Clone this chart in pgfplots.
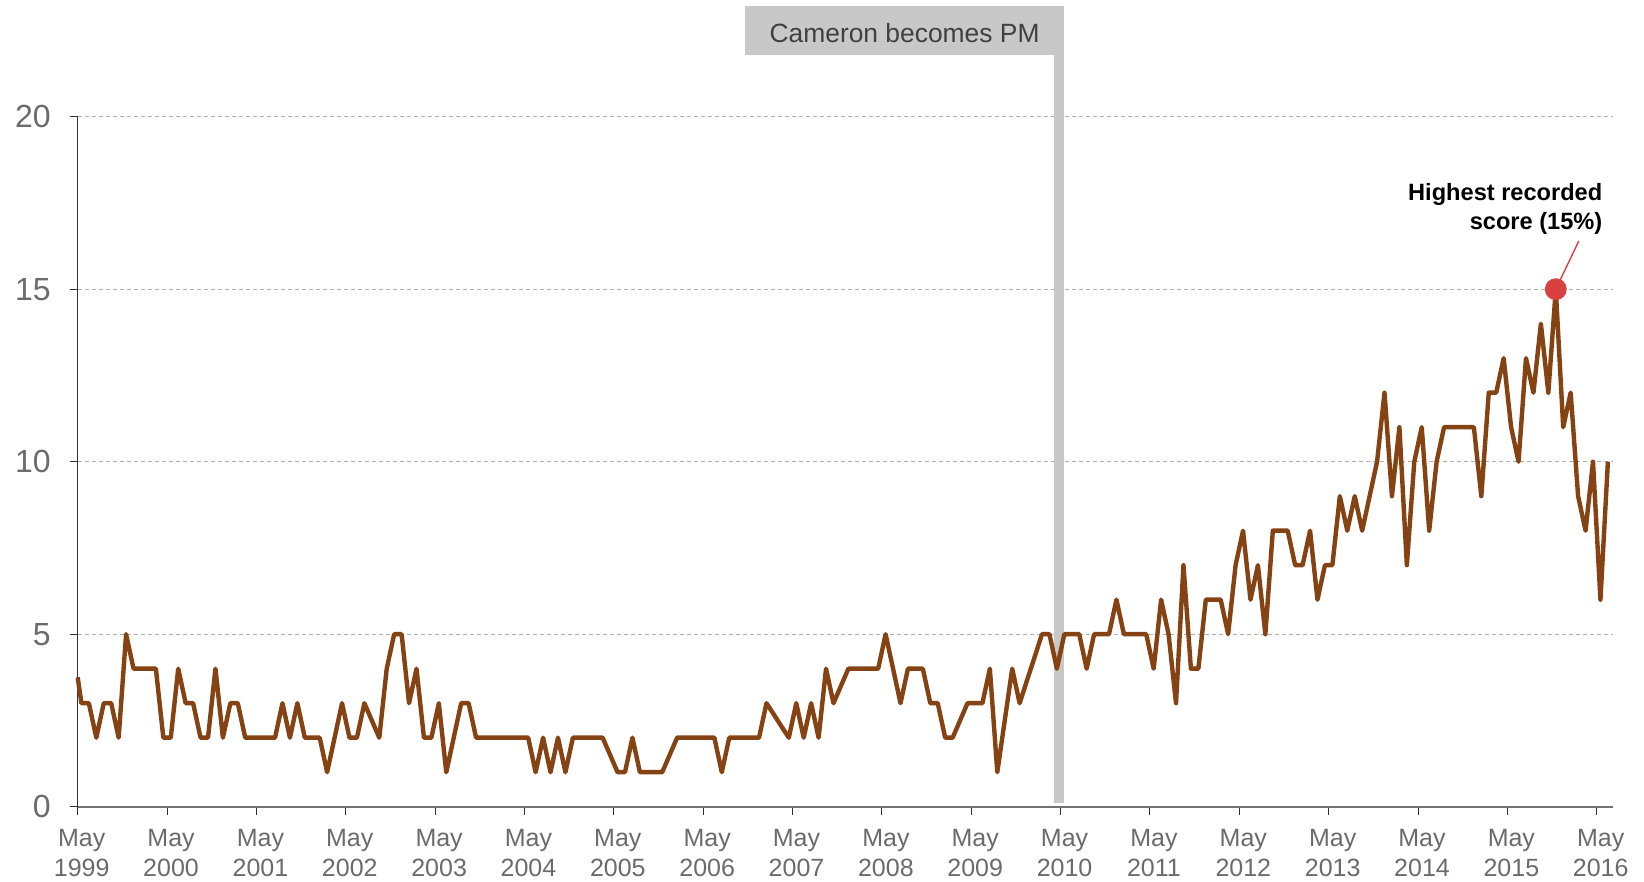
\documentclass[border=0pt]{standalone}
\usepackage{fontspec}
\setmainfont{Liberation Sans}
\usepackage{pgfplots}
\pgfplotsset{compat=1.18}
\definecolor{linebrown}{RGB}{133,66,19}
\definecolor{dotred}{RGB}{217,64,64}
\definecolor{bargray}{RGB}{200,200,200}
\definecolor{ticktext}{RGB}{107,107,107}
\definecolor{gridgray}{RGB}{175,175,175}
\definecolor{boxtext}{RGB}{64,64,64}

\begin{document}
\begin{tikzpicture}
\path[use as bounding box] (-38.85pt,-37.65pt) rectangle (783.15pt,403.35pt);
\begin{axis}[
  at={(0,0)}, anchor=south west, scale only axis,
  width=767.7pt, height=345pt,
  xmin=0, xmax=206.2, ymin=0, ymax=20,
  clip=false,
  axis x line=bottom, axis y line=left,
  x axis line style={-, draw=black!55, line width=1pt},
  y axis line style={-, draw=black!80, line width=0.5pt},
  xtick={0,12,...,204},
  xticklabels={May\\1999,May\\2000,May\\2001,May\\2002,May\\2003,May\\2004,
    May\\2005,May\\2006,May\\2007,May\\2008,May\\2009,May\\2010,May\\2011,
    May\\2012,May\\2013,May\\2014,May\\2015,May\\2016},
  ytick={0,5,10,15,20},
  tick align=outside, major tick length=4pt,
  xtick style={draw=black!80, line width=0.5pt},
  ytick style={draw=black!80, line width=0.5pt},
  xticklabel style={font=\fontsize{12.5}{15}\selectfont, text=ticktext, align=center, yshift=-4pt, xshift=2pt},
  yticklabel style={font=\fontsize{16}{18}\selectfont, text=ticktext, xshift=-6pt},
  /pgf/number format/assume math mode=true,
  ymajorgrids, grid style={draw=gridgray, line width=0.5pt, dash pattern=on 2pt off 1.5pt},
]
% Cameron marker
\draw[bargray, line width=5.15pt] (axis cs:131.8,0.12) -- (axis cs:131.8,21.8);
\fill[bargray] (axis cs:89.6,21.79) rectangle (axis cs:132.5,23.21);
\node[text=boxtext, font=\fontsize{13.2}{15}\selectfont] at (axis cs:111.05,22.42) {Cameron becomes PM};

\addplot[linebrown, line width=2.2pt, line join=round] coordinates {
(0,3.75)
(0.5,3)(1.5,3)(2.5,2)(3.5,3)(4.5,3)(5.5,2)(6.5,5)(7.5,4)(8.5,4)(9.5,4)
(10.5,4)(11.5,2)(12.5,2)(13.5,4)(14.5,3)(15.5,3)(16.5,2)(17.5,2)(18.5,4)(19.5,2)
(20.5,3)(21.5,3)(22.5,2)(23.5,2)(24.5,2)(25.5,2)(26.5,2)(27.5,3)(28.5,2)(29.5,3)
(30.5,2)(31.5,2)(32.5,2)(33.5,1)(34.5,2)(35.5,3)(36.5,2)(37.5,2)(38.5,3)(39.5,2.5)
(40.5,2)(41.5,4)(42.5,5)(43.5,5)(44.5,3)(45.5,4)(46.5,2)(47.5,2)(48.5,3)(49.5,1)
(50.5,2)(51.5,3)(52.5,3)(53.5,2)(54.5,2)(55.5,2)(56.5,2)(57.5,2)(58.5,2)(59.5,2)
(60.5,2)(61.5,1)(62.5,2)(63.5,1)(64.5,2)(65.5,1)(66.5,2)(67.5,2)(68.5,2)(69.5,2)
(70.5,2)(71.5,1.5)(72.5,1)(73.5,1)(74.5,2)(75.5,1)(76.5,1)(77.5,1)(78.5,1)(79.5,1.5)
(80.5,2)(81.5,2)(82.5,2)(83.5,2)(84.5,2)(85.5,2)(86.5,1)(87.5,2)(88.5,2)(89.5,2)
(90.5,2)(91.5,2)(92.5,3)(93.5,2.67)(94.5,2.33)(95.5,2)(96.5,3)(97.5,2)(98.5,3)(99.5,2)
(100.5,4)(101.5,3)(102.5,3.5)(103.5,4)(104.5,4)(105.5,4)(106.5,4)(107.5,4)(108.5,5)(109.5,4)
(110.5,3)(111.5,4)(112.5,4)(113.5,4)(114.5,3)(115.5,3)(116.5,2)(117.5,2)(118.5,2.5)(119.5,3)
(120.5,3)(121.5,3)(122.5,4)(123.5,1)(124.5,2.5)(125.5,4)(126.5,3)(127.5,3.67)(128.5,4.33)(129.5,5)
(130.5,5)(131.5,4)(132.5,5)(133.5,5)(134.5,5)(135.5,4)(136.5,5)(137.5,5)(138.5,5)(139.5,6)
(140.5,5)(141.5,5)(142.5,5)(143.5,5)(144.5,4)(145.5,6)(146.5,5)(147.5,3)(148.5,7)(149.5,4)
(150.5,4)(151.5,6)(152.5,6)(153.5,6)(154.5,5)(155.5,7)(156.5,8)(157.5,6)(158.5,7)(159.5,5)
(160.5,8)(161.5,8)(162.5,8)(163.5,7)(164.5,7)(165.5,8)(166.5,6)(167.5,7)(168.5,7)(169.5,9)
(170.5,8)(171.5,9)(172.5,8)(173.5,9)(174.5,10)(175.5,12)(176.5,9)(177.5,11)(178.5,7)(179.5,10)
(180.5,11)(181.5,8)(182.5,10)(183.5,11)(184.5,11)(185.5,11)(186.5,11)(187.5,11)(188.5,9)(189.5,12)
(190.5,12)(191.5,13)(192.5,11)(193.5,10)(194.5,13)(195.5,12)(196.5,14)(197.5,12)(198.5,15)(199.5,11)
(200.5,12)(201.5,9)(202.5,8)(203.5,10)(204.5,6)(205.5,10)
};

% highest score annotation
\draw[dotred, line width=0.7pt] (axis cs:198.5,15) -- (axis cs:201.6,16.4);
\addplot[only marks, mark=*, mark size=5.25pt, dotred] coordinates {(198.5,15)};
\node[anchor=base east, align=right, font=\bfseries\fontsize{11.8}{14.7}\selectfont, inner sep=0pt]
  at (axis cs:204.8,16.72) {Highest recorded\\score (15\%)};
\end{axis}
\end{tikzpicture}
\end{document}
